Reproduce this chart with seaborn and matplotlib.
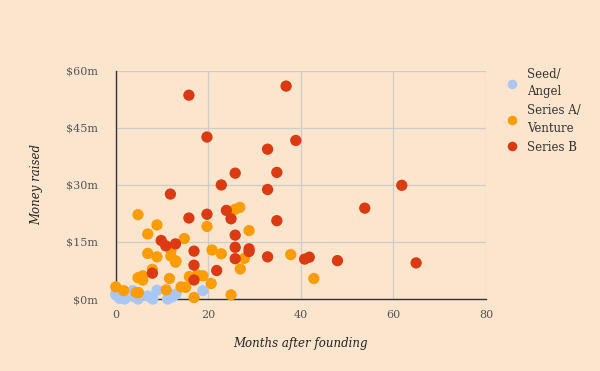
import matplotlib
matplotlib.use("Agg")
import matplotlib.pyplot as plt
import seaborn as sns
import pandas as pd

# ---- data (months after founding, money raised in $m) ----
seed_months = [0, 0, 0.8, 1.9, 3.7, 3.9, 4.8, 6.9, 8.0, 8.9, 11.2, 12.3, 13.0, 18.8]
seed_money = [1.5, 1.1, 0.2, 0.0, 2.2, 0.6, 0.0, 0.8, 0.0, 2.3, 0.0, 0.6, 1.3, 2.2]

seriesA_months = [4.8, 8.9, 6.9, 14.8, 19.7, 25.8, 26.8, 28.8, 6.9, 8.9, 11.9, 11.9,
                  12.9, 20.8, 22.8, 27.8, 26.9, 37.8, 7.9, 4.8, 5.8, 5.8, 11.6, 15.9,
                  17.6, 18.8, 20.6, 14.1, 15.1, 10.9, 0, 1.7, 4.4, 4.9, 16.9, 24.9,
                  42.8, 13.0]
seriesA_money = [22.2, 19.5, 17.1, 15.9, 19.1, 23.6, 24.1, 18.0, 12.0, 11.1, 12.7, 11.3,
                 9.7, 12.9, 11.9, 10.7, 7.9, 11.7, 7.8, 5.6, 6.1, 5.0, 5.4, 5.9,
                 6.3, 6.1, 4.1, 3.2, 3.1, 2.4, 3.2, 2.2, 1.7, 1.7, 0.4, 1.1,
                 5.4, 10.0]

seriesB_months = [15.8, 36.8, 19.7, 38.9, 32.8, 25.8, 34.8, 22.8, 32.8, 11.8, 23.9, 19.7,
                  24.9, 15.8, 34.8, 25.8, 9.8, 10.8, 12.9, 25.8, 28.8, 28.8, 16.9, 25.8,
                  32.8, 16.9, 21.8, 7.9, 16.9, 40.8, 41.8, 47.9, 53.8, 61.8, 64.9]
seriesB_money = [53.6, 56.0, 42.6, 41.7, 39.4, 33.1, 33.3, 30.0, 28.8, 27.6, 23.3, 22.3,
                 21.1, 21.3, 20.6, 16.8, 15.4, 14.0, 14.5, 13.6, 13.2, 12.5, 12.6, 10.6,
                 11.1, 8.9, 7.5, 6.8, 5.0, 10.5, 11.0, 10.1, 23.9, 29.9, 9.5]

categories = ["Seed/\nAngel", "Series A/\nVenture", "Series B"]
colors = ["#a9c7f5", "#ff9c00", "#dc3a12"]
x_ticks = [0, 20, 40, 60, 80]
y_ticks = [0, 15, 30, 45, 60]
y_tick_labels = ["$0m", "$15m", "$30m", "$45m", "$60m"]

df = pd.concat([
    pd.DataFrame({"months": seed_months, "money": seed_money, "stage": categories[0]}),
    pd.DataFrame({"months": seriesA_months, "money": seriesA_money, "stage": categories[1]}),
    pd.DataFrame({"months": seriesB_months, "money": seriesB_money, "stage": categories[2]}),
], ignore_index=True)

bg = "#fce5cd"
sns.set_theme(style="whitegrid")
plt.rcParams["font.family"] = ["DejaVu Serif"]

fig = plt.figure(figsize=(6, 3.71), dpi=100, facecolor=bg)
ax = fig.add_axes([0.193, 0.194, 0.617, 0.615])
ax.set_facecolor(bg)

sns.scatterplot(data=df, x="months", y="money", hue="stage",
                palette=dict(zip(categories, colors)), hue_order=categories,
                s=66, linewidth=0, alpha=1, ax=ax, zorder=3, clip_on=False)

ax.set_xlim(0, 80)
ax.set_ylim(0, 60)
ax.set_xticks(x_ticks)
ax.set_xticklabels([str(t) for t in x_ticks])
ax.set_yticks(y_ticks)
ax.set_yticklabels(y_tick_labels)
ax.grid(True, color="#cccccc", linewidth=0.9)
ax.set_axisbelow(True)
for s in ["top", "right"]:
    ax.spines[s].set_visible(False)
for s in ["left", "bottom"]:
    ax.spines[s].set_color("#333333")
    ax.spines[s].set_linewidth(1.0)
ax.tick_params(axis="both", length=0, labelsize=8, labelcolor="#555555")
ax.tick_params(axis="y", pad=13)
ax.tick_params(axis="x", pad=8)

ax.set_xlabel("Months after founding", fontsize=8.5, fontstyle="italic",
              color="#222222", labelpad=12)
ax.set_ylabel("Money raised", fontsize=8.5, fontstyle="italic",
              color="#222222", labelpad=16)

handles, labels = ax.get_legend_handles_labels()
leg = ax.legend(handles, labels, loc="upper left", bbox_to_anchor=(0.825, 0.83),
                bbox_transform=fig.transFigure, frameon=False, fontsize=8.5,
                labelcolor="#333333", handletextpad=0.3, markerscale=0.85,
                labelspacing=0.5, borderaxespad=0)
for t in leg.get_texts():
    t.set_linespacing(1.45)

fig.savefig("out.png", dpi=100, facecolor=bg)
